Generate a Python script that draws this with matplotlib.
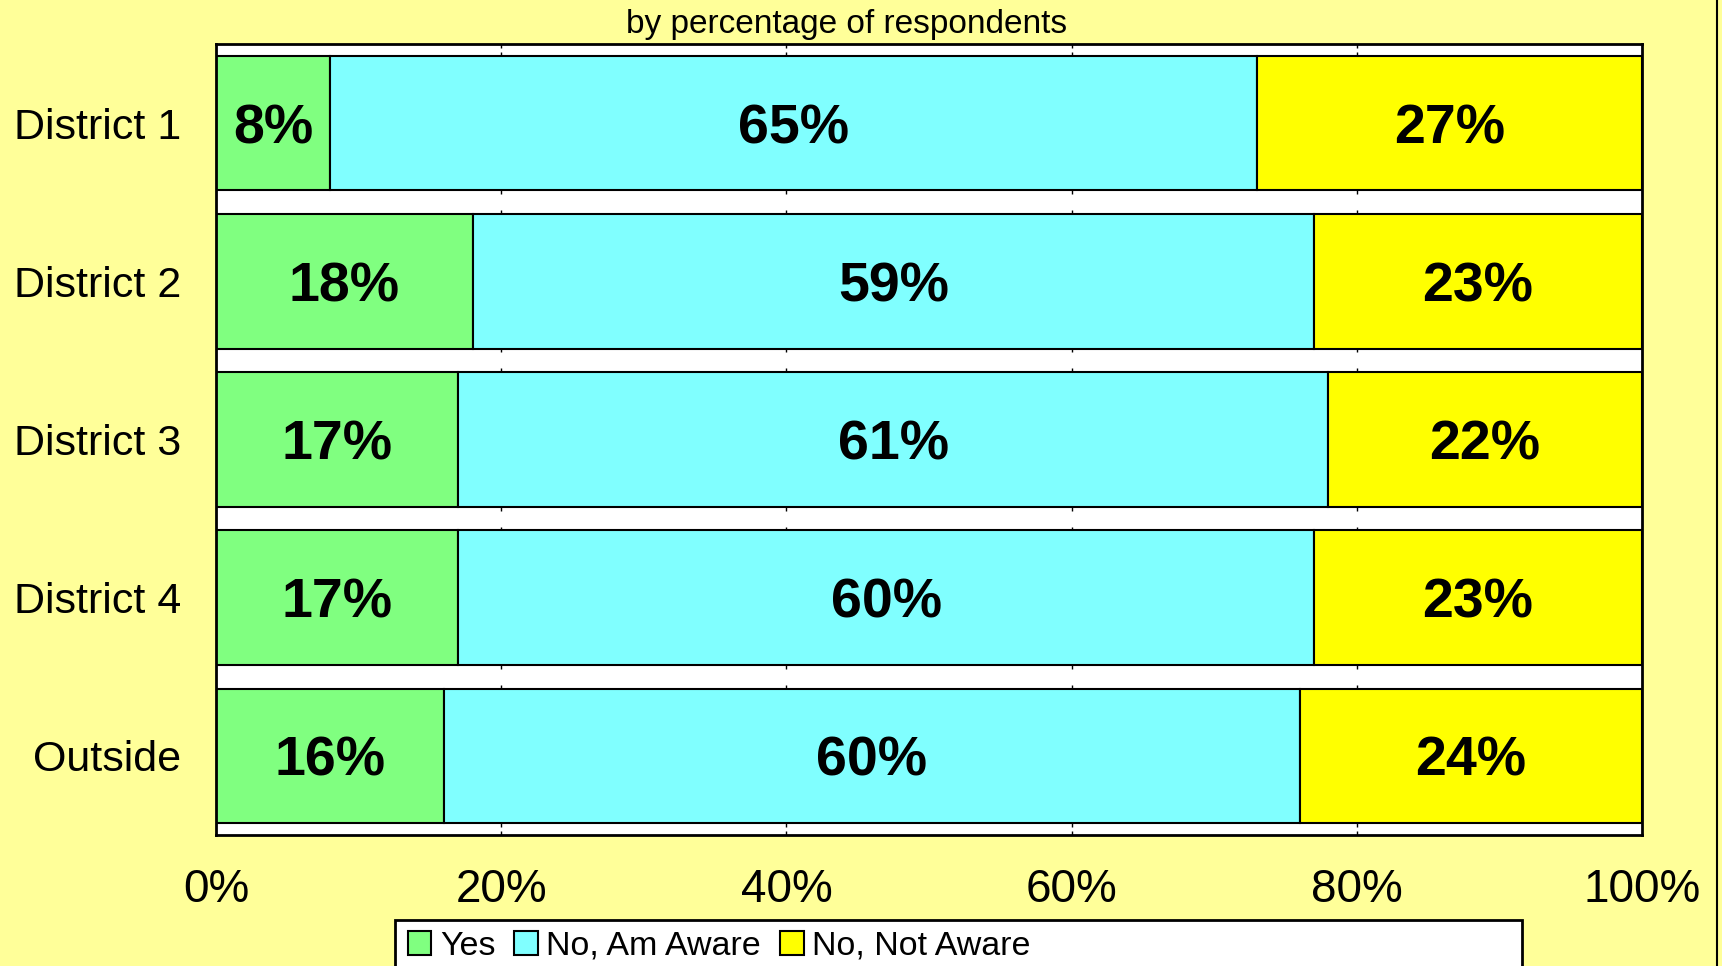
import matplotlib
matplotlib.use('Agg')
import numpy as np
import matplotlib.pyplot as plt
from matplotlib.patches import Rectangle, Patch
from matplotlib.lines import Line2D

plt.rcParams['font.family'] = ['Liberation Sans', 'DejaVu Sans']

# data
districts = ['District 1', 'District 2', 'District 3', 'District 4', 'Outside']
series = ['Yes', 'No, Am Aware', 'No, Not Aware']
yes = [8, 18, 17, 17, 16]
aware = [65, 59, 61, 60, 60]
not_aware = [27, 23, 22, 23, 24]
colors = ['#80FF80', '#80FFFF', '#FFFF00']
xticks = [0, 20, 40, 60, 80, 100]

bar_h = 0.85

fig = plt.figure(figsize=(17.22, 9.66), dpi=100)
fig.patch.set_facecolor('#FFFF99')
ax = fig.add_axes([216/1722, 1 - 835/966, (1642 - 216)/1722, (835 - 44)/966])
ax.set_facecolor('white')

y = np.arange(len(districts))
ax.set_xlim(0, 100)
ax.set_ylim(len(districts) - 0.5, -0.5)

# short tick marks left visible in the gaps between bars
tick_len = 0.025
for x in xticks[1:-1]:
    for i in range(len(y) + 1):
        lo = y[i - 1] + bar_h / 2 if i > 0 else -0.5
        hi = y[i] - bar_h / 2 if i < len(y) else len(y) - 0.5
        ax.vlines(x, lo, lo + tick_len, color='black', linewidth=1, zorder=0.5)
        ax.vlines(x, hi - tick_len, hi, color='black', linewidth=1, zorder=0.5)

left = np.zeros(len(districts))
for vals, col in zip([yes, aware, not_aware], colors):
    vals = np.array(vals, dtype=float)
    ax.barh(y, vals, left=left, height=bar_h, color=col, edgecolor='black', linewidth=1.5)
    for yi, l, v in zip(y, left, vals):
        ax.text(l + v / 2, yi, f'{int(v)}%', ha='center', va='center_baseline',
                fontsize=40, fontweight='bold', color='black')
    left += vals

ax.set_yticks(y)
ax.set_yticklabels(districts, fontsize=31)
ax.set_xticks(xticks)
ax.set_xticklabels([f'{t}%' for t in xticks], fontsize=33)
ax.tick_params(axis='both', length=0)
ax.tick_params(axis='x', pad=24)
ax.tick_params(axis='y', pad=25)
for s in ax.spines.values():
    s.set_linewidth(2)
    s.set_color('black')

fig.text(847/1722, 1 - 24/966, 'by percentage of respondents', ha='center', va='center', fontsize=24)

# legend box (runs off the bottom edge like the reference)
fig.patches.append(Rectangle((395/1722, -0.05), (1522 - 395)/1722, (1 - 920/966) + 0.05,
                             transform=fig.transFigure, facecolor='white', edgecolor='black',
                             linewidth=2, zorder=1))
handles = [Patch(facecolor=c, edgecolor='black', linewidth=1.5) for c in colors]
fig.legend(handles, series, loc='upper left', bbox_to_anchor=(399/1722, 1 - 922/966),
           ncol=3, frameon=False, fontsize=24.5, handlelength=0.7, handleheight=0.7,
           handletextpad=0.25, columnspacing=0.55, borderaxespad=0, borderpad=0.25)

# outer chart border on the right
fig.add_artist(Line2D([1717/1722, 1717/1722], [0, 1], transform=fig.transFigure,
                      color='black', linewidth=1.5))

fig.savefig('out.png', dpi=100, facecolor=fig.get_facecolor())
